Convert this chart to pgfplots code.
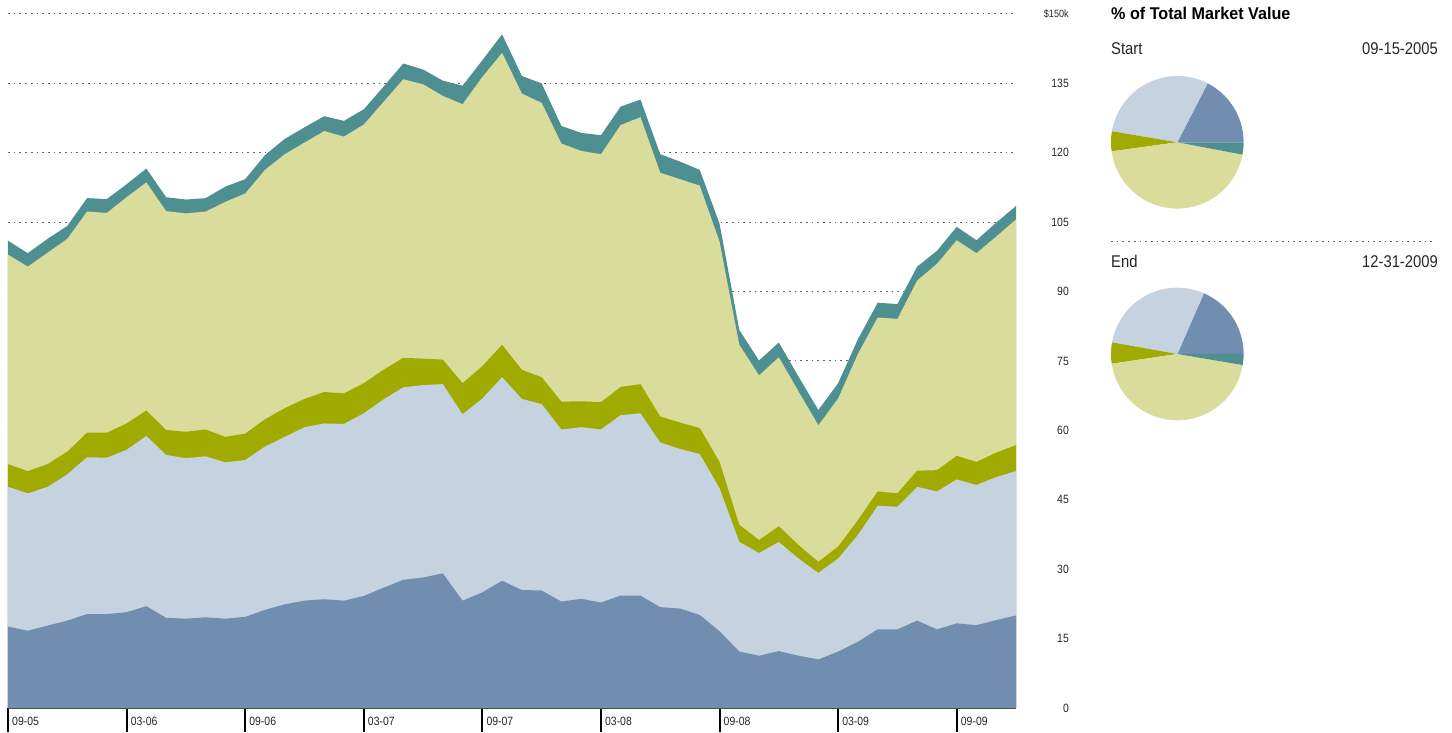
\documentclass[border=0pt]{standalone}
\usepackage{fontspec}
\setmainfont{Liberation Sans}[FakeStretch=0.87]
\newfontfamily\titlefont{Liberation Sans}[FakeStretch=0.95]
\usepackage{pgfplots}
\usepackage{pgfplotstable}
\pgfplotsset{compat=1.18}
\definecolor{cDark}{RGB}{113,141,176}
\definecolor{cLight}{RGB}{197,210,224}
\definecolor{cOlive}{RGB}{160,170,0}
\definecolor{cYel}{RGB}{218,220,155}
\definecolor{cTeal}{RGB}{78,144,146}
% cumulative tops of each layer: D dark blue, L light blue, O olive, Y yellow-green, T teal (total)
\pgfplotstableread{
i D L O Y T
0 17.6 47.8 52.7 98.0 101.0
1 16.7 46.4 51.2 95.4 98.3
2 17.8 47.8 52.7 98.4 101.4
3 18.9 50.5 55.4 101.4 104.2
4 20.3 54.2 59.5 107.3 110.2
5 20.3 54.1 59.5 107.0 110.0
6 20.7 55.8 61.5 110.4 113.2
7 22.0 58.8 64.3 113.6 116.6
8 19.5 54.7 60.1 107.4 110.4
9 19.3 54.0 59.7 106.9 109.9
10 19.6 54.4 60.2 107.3 110.2
11 19.3 53.1 58.6 109.4 112.7
12 19.7 53.6 59.3 111.2 114.3
13 21.2 56.5 62.4 116.3 119.5
14 22.4 58.6 64.8 119.7 123.0
15 23.2 60.7 66.8 122.2 125.5
16 23.5 61.5 68.3 124.7 127.9
17 23.2 61.4 68.0 123.5 126.9
18 24.2 63.7 70.2 126.1 129.4
19 26.0 66.7 73.1 131.0 134.3
20 27.7 69.3 75.7 135.9 139.3
21 28.2 69.8 75.5 134.8 138.0
22 29.1 70.0 75.3 132.3 135.6
23 23.2 63.5 70.2 130.5 134.5
24 25.0 66.9 73.9 136.4 140.0
25 27.5 71.5 78.5 141.6 145.6
26 25.5 66.8 73.1 132.8 136.6
27 25.4 65.7 71.5 130.8 135.0
28 23.0 60.2 66.2 122.0 125.8
29 23.6 60.7 66.3 120.4 124.3
30 22.8 60.2 66.1 119.7 123.8
31 24.3 63.3 69.4 126.0 130.0
32 24.3 63.7 70.0 127.7 131.5
33 21.8 57.4 63.0 115.7 119.7
34 21.5 56.0 61.7 114.3 118.1
35 20.1 54.9 60.5 112.9 116.3
36 16.6 47.5 53.2 100.8 104.7
37 12.2 35.9 39.6 78.5 81.7
38 11.3 33.5 36.3 71.9 75.1
39 12.3 35.9 39.3 75.8 79.0
40 11.3 32.3 35.2 68.4 71.6
41 10.5 29.2 31.6 61.1 64.4
42 12.2 32.3 34.9 66.9 70.2
43 14.3 37.4 40.6 76.5 79.7
44 17.0 43.7 46.8 84.4 87.6
45 17.0 43.5 46.4 84.1 87.3
46 18.9 47.8 51.3 92.4 95.4
47 17.0 46.8 51.4 96.0 98.8
48 18.3 49.4 54.5 101.1 104.0
49 17.9 48.2 53.2 98.3 101.1
50 19.0 49.9 55.2 101.9 104.9
51 20.0 51.2 56.8 105.6 108.5
}\mainData
% pie slice values (start, end): dark, light, olive, yellow, teal
\def\pieslices#1#2#3#4#5{%
  \pgfmathsetmacro\tot{#1+#2+#3+#4+#5}%
  \pgfmathsetmacro\unit{360/\tot}%
  \pgfmathsetmacro\aA{\unit*#1}%
  \pgfmathsetmacro\aB{\aA+\unit*#2}%
  \pgfmathsetmacro\aC{\aB+\unit*#3}%
  \pgfmathsetmacro\aD{\aC+\unit*#4}%
  \addplot[fill=cDark,draw=none,domain=0:\aA,samples=40,variable=\t]({cos(\t)},{sin(\t)}) -- (axis cs:0,0) -- cycle;
  \addplot[fill=cLight,draw=none,domain=\aA:\aB,samples=40,variable=\t]({cos(\t)},{sin(\t)}) -- (axis cs:0,0) -- cycle;
  \addplot[fill=cOlive,draw=none,domain=\aB:\aC,samples=20,variable=\t]({cos(\t)},{sin(\t)}) -- (axis cs:0,0) -- cycle;
  \addplot[fill=cYel,draw=none,domain=\aC:\aD,samples=60,variable=\t]({cos(\t)},{sin(\t)}) -- (axis cs:0,0) -- cycle;
  \addplot[fill=cTeal,draw=none,domain=\aD:360,samples=20,variable=\t]({cos(\t)},{sin(\t)}) -- (axis cs:0,0) -- cycle;
}
\begin{document}
\begin{tikzpicture}
\useasboundingbox (0,0) rectangle (1452pt,732pt);
\begin{axis}[
  at={(8pt,24pt)}, anchor=south west,
  width=1008pt, height=694pt, scale only axis,
  xmin=0, xmax=51, ymin=0, ymax=150,
  axis x line=bottom, axis y line=right,
  x axis line style={-, line width=2pt, black},
  y axis line style={draw=none},
  xtick={0,6,...,48},
  xticklabels={09-05,03-06,09-06,03-07,09-07,03-08,09-08,03-09,09-09},
  xtick style={line width=2pt, black},
  xtick align=outside,
  major tick length=24pt,
  ytick={0,15,...,150},
  yticklabels={0,15,30,45,60,75,90,105,120,135,{\fontsize{10.5}{11}\selectfont\$150k}},
  ytick style={draw=none},
  yticklabel style={anchor=east, inner sep=0pt, xshift=41pt, text=black!85},
  xticklabel style={anchor=north west, inner sep=0pt, xshift=4pt, yshift=15pt, text=black!85},
  tick label style={font=\fontsize{12}{13}\selectfont},
  ymajorgrids,
  grid style={line width=1pt, gray!80!black, dash pattern=on 1.7pt off 4pt},
  clip=false,
]
\addplot[fill=cTeal, draw=none] table[x=i,y=T]{\mainData} \closedcycle;
\addplot[fill=cYel, draw=none] table[x=i,y=Y]{\mainData} \closedcycle;
\addplot[fill=cOlive, draw=none] table[x=i,y=O]{\mainData} \closedcycle;
\addplot[fill=cLight, draw=none] table[x=i,y=L]{\mainData} \closedcycle;
\addplot[fill=cDark, draw=none] table[x=i,y=D]{\mainData} \closedcycle;
\end{axis}
% title and labels of the side panel
\node[anchor=base west, inner sep=0pt, font=\titlefont\bfseries\fontsize{17}{18}\selectfont] at (1111pt,712pt) {\% of Total Market Value};
\node[anchor=base west, inner sep=0pt, font=\fontsize{17}{18}\selectfont, text=black!85] at (1111pt,677pt) {Start};
\node[anchor=base east, inner sep=0pt, font=\fontsize{17}{18}\selectfont, text=black!85] at (1438pt,677pt) {09-15-2005};
\draw[line width=1pt, gray!80!black, dash pattern=on 1.7pt off 4pt] (1111pt,490pt) -- (1434pt,490pt);
\node[anchor=base west, inner sep=0pt, font=\fontsize{17}{18}\selectfont, text=black!85] at (1111pt,464.7pt) {End};
\node[anchor=base east, inner sep=0pt, font=\fontsize{17}{18}\selectfont, text=black!85] at (1438pt,464.7pt) {12-31-2009};
\begin{axis}[at={(1177.3pt,589.7pt)}, anchor=center, width=132.6pt, height=132.6pt,
  scale only axis, xmin=-1, xmax=1, ymin=-1, ymax=1, hide axis]
\pieslices{17.6}{30.2}{4.9}{45.3}{3.0}
\end{axis}
\begin{axis}[at={(1177.3pt,378pt)}, anchor=center, width=132.6pt, height=132.6pt,
  scale only axis, xmin=-1, xmax=1, ymin=-1, ymax=1, hide axis]
\pieslices{20.0}{31.2}{5.6}{48.8}{2.9}
\end{axis}
\end{tikzpicture}
\end{document}
